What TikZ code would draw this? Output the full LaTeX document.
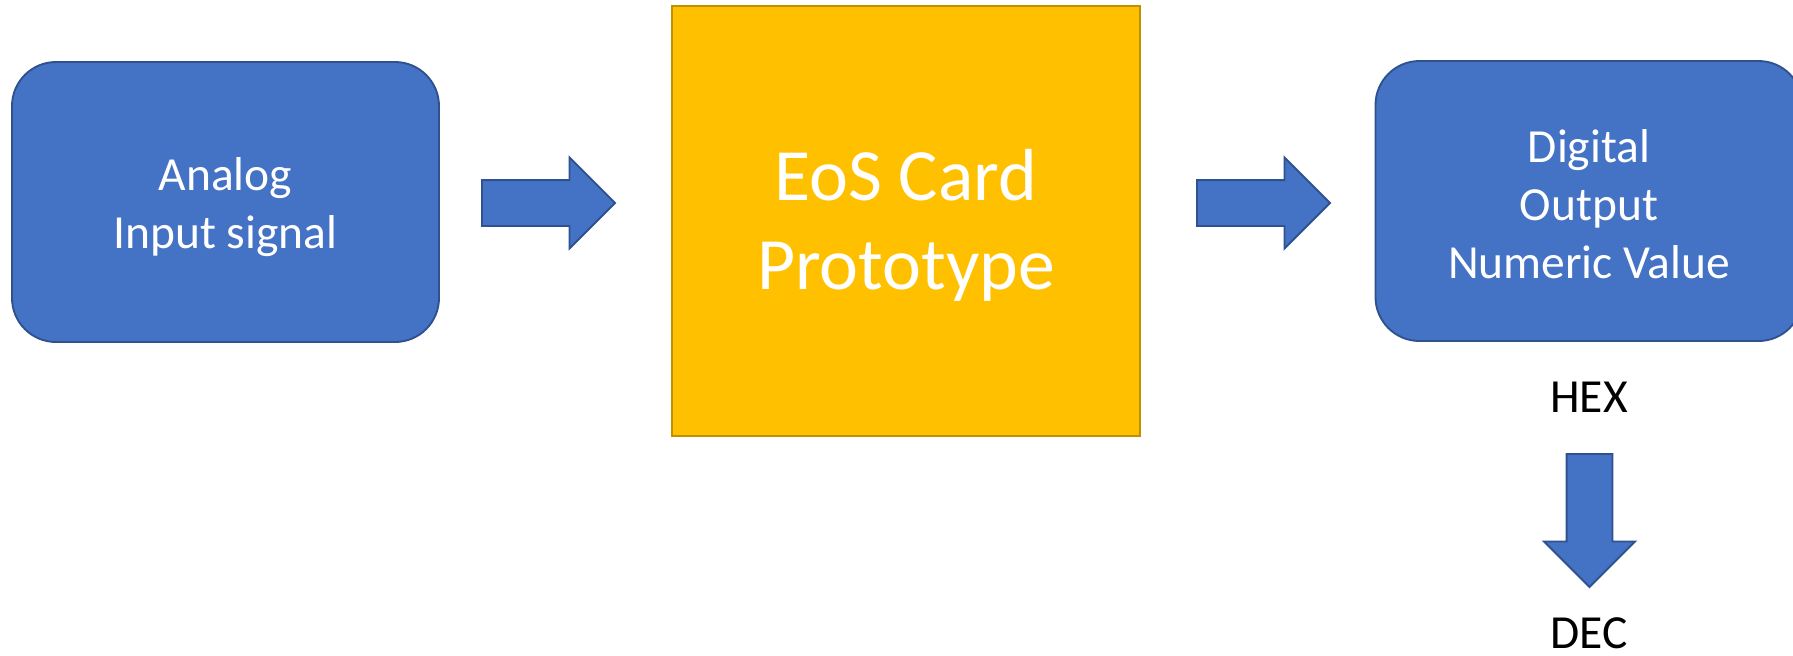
\documentclass[tikz,border=0pt]{standalone}
\usepackage{fontspec}
\setmainfont{Carlito}
\usetikzlibrary{shapes.arrows}
\definecolor{boxblue}{HTML}{4472C4}
\definecolor{edgeblue}{HTML}{2F528F}
\definecolor{cardgold}{HTML}{FFC000}
\definecolor{edgegold}{HTML}{BF9000}
\begin{document}
\begin{tikzpicture}[x=.4pt,y=-.4pt,line width=.75pt,
 roundbox/.style={draw=edgeblue,fill=boxblue,rounded corners=17.6pt,minimum width=170.8pt,
  minimum height=112pt,inner sep=0pt},
 boxtext/.style={inner sep=0pt,align=center,text=white,font=\fontsize{19}{23.2}\selectfont},
 fatarrow/.style={single arrow,draw=edgeblue,fill=boxblue,minimum height=53.2pt,
  inner xsep=0pt,inner ysep=8.8pt,single arrow head extend=9pt,anchor=tail},
 lbl/.style={anchor=base,inner sep=0pt,font=\fontsize{19}{23}\selectfont}]
\useasboundingbox (0,0) rectangle (1793,655);
\node[roundbox] (analog) at (225.5,202) {};
\node[boxtext] (analogtxt) at ([yshift=-2pt]analog.center) {Analog\\Input signal};
\node[draw=edgegold,fill=cardgold,minimum width=187.2pt,minimum height=172pt,inner sep=0pt] (card) at (906,221) {};
\node[boxtext,font=\fontsize{29.5}{35.6}\selectfont] (cardtxt) at ([yshift=-1.8pt]card.center) {EoS Card\\Prototype};
\node[roundbox] (digital) at (1589,201) {};
\node[boxtext] (digitaltxt) at ([yshift=-1.2pt]digital.center) {Digital\\Output\\Numeric Value};
\node[fatarrow] (arrin) at (481,203) {};
\node[fatarrow] (arrout) at (1196,203) {};
\node[fatarrow,rotate=-90] (arrdown) at (1589.5,453) {};
\node[lbl] (hex) at (1589,412) {HEX};
\node[lbl] (dec) at (1589,648) {DEC};
\end{tikzpicture}
\end{document}
